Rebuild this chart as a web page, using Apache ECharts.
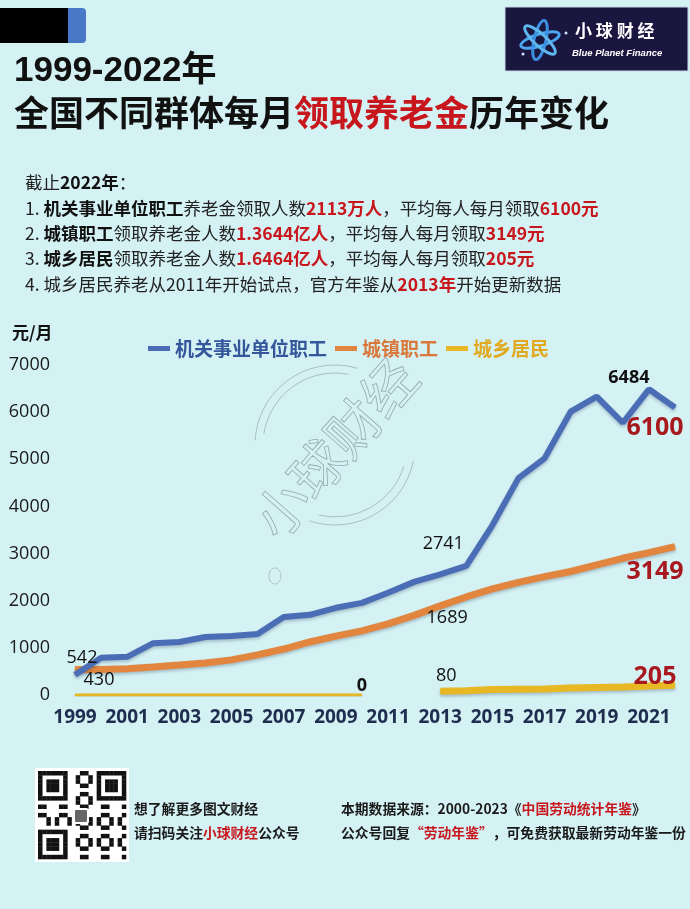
<!DOCTYPE html>
<html>
<head>
<meta charset="utf-8">
<script src="https://cdn.jsdelivr.net/npm/echarts@6/dist/echarts.min.js"></script>
<style>
html,body{margin:0;padding:0;background:#d4f1f3;}
#main{width:690px;height:909px;}
</style>
</head>
<body>
<div id="main"></div>
<script>
// ---- data ----
const years = ['1999','2000','2001','2002','2003','2004','2005','2006','2007','2008','2009','2010','2011','2012','2013','2014','2015','2016','2017','2018','2019','2020','2021','2022'];
const govStaff = [430, 790, 810, 1100, 1125, 1230, 1250, 1295, 1655, 1700, 1850, 1955, 2170, 2400, 2560, 2741, 3600, 4600, 5020, 6010, 6330, 5775, 6484, 6100];
const urbanStaff = [542, 540, 556, 595, 635, 680, 745, 850, 975, 1125, 1250, 1360, 1510, 1689, 1890, 2080, 2250, 2390, 2510, 2620, 2760, 2900, 3020, 3149];
const ruralEarly = [0, 0, 0, 0, 0, 0, 0, 0, 0, 0, 0, 0, null, null, null, null, null, null, null, null, null, null, null, null];
const ruralLate = [null, null, null, null, null, null, null, null, null, null, null, null, null, null, 80, 90, 115, 120, 125, 150, 160, 170, 190, 205];
const seriesNames = ['机关事业单位职工', '城镇职工', '城乡居民'];
const yMin = 0, yMax = 7000, yStep = 1000;

// ---- styles ----
const C_BLUE = '#4a6db6', C_ORANGE = '#e2853e', C_YELLOW = '#e8b824';
const RED = '#c8161d', DARKRED = '#a8181f';
const CJK = '"Noto Sans CJK SC", sans-serif';
const NUM = '"Open Sans", "Noto Sans", sans-serif';

const plainLbl = {fontFamily: NUM, fontSize: 18, color: '#111'};
const bigRed = {fontFamily: NUM, fontSize: 25, fontWeight: 'bold', color: DARKRED};
const govLabels = {
  0: Object.assign({offset: [24, 5]}, plainLbl),
  15: Object.assign({offset: [-23, -22]}, plainLbl),
  22: Object.assign({offset: [-20, -11]}, plainLbl, {fontWeight: 'bold'}),
  23: Object.assign({offset: [-20, 20]}, bigRed)
};
const urbanLabels = {
  0: Object.assign({offset: [7, -12]}, plainLbl),
  13: Object.assign({offset: [33, 2]}, plainLbl),
  23: Object.assign({offset: [-20, 25]}, bigRed)
};
const ruralEarlyLabels = {
  11: Object.assign({offset: [0, -9]}, plainLbl, {fontWeight: 'bold'})
};
const ruralLateLabels = {
  14: Object.assign({offset: [6, -15]}, plainLbl),
  23: Object.assign({offset: [-20, -8]}, bigRed)
};
function build(arr, cfg) {
  return arr.map(function (v, i) {
    if (cfg[i] && v !== null) {
      return {value: v, label: Object.assign({show: true, position: 'inside'}, cfg[i])};
    }
    return v;
  });
}
function lineSeries(name, arr, cfg, color, width) {
  return {
    name: name, type: 'line', data: build(arr, cfg),
    symbol: 'circle', symbolSize: 1, showSymbol: true, showAllSymbol: true,
    itemStyle: {color: color},
    lineStyle: {color: color, width: width, shadowColor: 'rgba(20,40,80,0.25)', shadowBlur: 3, shadowOffsetY: 2},
    label: {show: false},
    emphasis: {disabled: true},
    connectNulls: false
  };
}

// decorative QR code modules
const qrModules = [];
(function () {
  const N = 21, s = 88 / N, x0 = 38, y0 = 771;
  function finder(r, c) { return (r >= 0 && r < 7 && c >= 0 && c < 7); }
  for (let r = 0; r < N; r++) {
    for (let c = 0; c < N; c++) {
      let on = false;
      const f1 = finder(r, c), f2 = finder(r, c - 14), f3 = finder(r - 14, c);
      if (f1 || f2 || f3) {
        const rr = f3 ? r - 14 : r;
        const cc = f2 ? c - 14 : c;
        on = (rr === 0 || rr === 6 || cc === 0 || cc === 6) || (rr >= 2 && rr <= 4 && cc >= 2 && cc <= 4);
      } else if ((r === 7 && (c < 8 || c > 12)) || (c === 7 && (r < 8 || r > 12)) || (c === 13 && r < 8) || (r === 13 && c < 8)) {
        on = false;
      } else {
        on = ((r * 7 + c * 11 + r * c) % 5) < 2;
      }
      if (on) qrModules.push({type: 'rect', z: 11, shape: {x: x0 + c * s, y: y0 + r * s, width: s + 0.3, height: s + 0.3}, style: {fill: '#111'}});
    }
  }
})();

function noteRich() {
  const base = {fontSize: 17.5, fontFamily: CJK, lineHeight: 22};
  return {
    n: Object.assign({color: '#222', fontWeight: 'normal'}, base),
    b: Object.assign({color: '#111', fontWeight: 'bold'}, base),
    r: Object.assign({color: RED, fontWeight: 'bold'}, base)
  };
}
function footStyle() {
  return {fontSize: 13.8, fontWeight: 'bold', color: '#1a1a1a', fontFamily: CJK, lineHeight: 17,
    rich: {r: {fontSize: 13.8, fontWeight: 'bold', color: RED, fontFamily: CJK, lineHeight: 17}}};
}

const chart = echarts.init(document.getElementById('main'), null, {renderer: 'canvas'});
const option = {
  animation: false,
  backgroundColor: '#d4f1f3',
  textStyle: {fontFamily: CJK},
  title: [
    {text: '1999-2022年', left: 14, top: 52, padding: 0,
      textStyle: {fontSize: 35, fontWeight: 'bold', color: '#111', fontFamily: '"Liberation Sans", ' + CJK, lineHeight: 38}},
    {text: '全国不同群体每月{r|领取养老金}历年变化', left: 14, top: 94, padding: 0,
      textStyle: {fontSize: 35, fontWeight: 'bold', color: '#111', fontFamily: CJK, lineHeight: 38,
        rich: {r: {fontSize: 35, fontWeight: 'bold', color: RED, fontFamily: CJK, lineHeight: 38}}}},
    {text: '{n|截止}{b|2022年}{n|：}', left: 25, top: 171, padding: 0, textStyle: {rich: noteRich()}},
    {text: '{n|1. }{b|机关事业单位职工}{n|养老金领取人数}{r|2113万人}{n|，平均每人每月领取}{r|6100元}', left: 25, top: 197, padding: 0, textStyle: {rich: noteRich()}},
    {text: '{n|2. }{b|城镇职工}{n|领取养老金人数}{r|1.3644亿人}{n|，平均每人每月领取}{r|3149元}', left: 25, top: 222, padding: 0, textStyle: {rich: noteRich()}},
    {text: '{n|3. }{b|城乡居民}{n|领取养老金人数}{r|1.6464亿人}{n|，平均每人每月领取}{r|205元}', left: 25, top: 247, padding: 0, textStyle: {rich: noteRich()}},
    {text: '{n|4. 城乡居民养老从2011年开始试点，官方年鉴从}{r|2013年}{n|开始更新数据}', left: 25, top: 273, padding: 0, textStyle: {rich: noteRich()}},
    {text: '元/月', left: 12, top: 322, padding: 0,
      textStyle: {fontSize: 17, fontWeight: 'bold', color: '#111', fontFamily: CJK, lineHeight: 22}},
    {text: '想了解更多图文财经', left: 134, top: 800, padding: 0, textStyle: footStyle()},
    {text: '请扫码关注{r|小球财经}公众号', left: 134, top: 824, padding: 0, textStyle: footStyle()},
    {text: '本期数据来源：2000-2023《{r|中国劳动统计年鉴}》', left: 341, top: 800, padding: 0, textStyle: footStyle()},
    {text: '公众号回复{r|“劳动年鉴”}，可免费获取最新劳动年鉴一份', left: 341, top: 824, padding: 0, textStyle: footStyle()}
  ],
  legend: {
    left: 148, top: 339, padding: 0,
    icon: 'rect', itemWidth: 22, itemHeight: 5, itemGap: 8,
    textStyle: {fontSize: 19, fontWeight: 'bold', fontFamily: CJK},
    data: [
      {name: seriesNames[0], textStyle: {color: '#34579c'}},
      {name: seriesNames[1], textStyle: {color: '#d9783a'}},
      {name: seriesNames[2], textStyle: {color: '#e2a91e'}}
    ],
    selectedMode: false
  },
  grid: {left: 75, right: 15, top: 365, bottom: 214, containLabel: false},
  xAxis: {
    type: 'category', data: years, boundaryGap: false,
    axisLine: {show: false}, axisTick: {show: false},
    axisLabel: {interval: 1, margin: 13, fontSize: 19, fontWeight: 'bold', color: '#1f2d4f', fontFamily: NUM}
  },
  yAxis: {
    type: 'value', min: yMin, max: yMax, interval: yStep,
    splitLine: {show: false}, axisLine: {show: false}, axisTick: {show: false},
    axisLabel: {margin: 25, fontSize: 18, color: '#1a1a1a', fontFamily: NUM, formatter: function (v) { return String(v); }}
  },
  series: [
    lineSeries(seriesNames[2], ruralEarly, ruralEarlyLabels, C_YELLOW, 3),
    lineSeries(seriesNames[2], ruralLate, ruralLateLabels, C_YELLOW, 7),
    lineSeries(seriesNames[1], urbanStaff, urbanLabels, C_ORANGE, 7),
    lineSeries(seriesNames[0], govStaff, govLabels, C_BLUE, 6)
  ],
  graphic: [
    // top-left black tab
    {type: 'rect', z: 10, shape: {x: 60, y: 8, width: 26, height: 35, r: [0, 4, 4, 0]}, style: {fill: '#4a78c8'}},
    {type: 'rect', z: 11, shape: {x: 0, y: 8, width: 68, height: 35}, style: {fill: '#000'}},
    // logo box
    {type: 'rect', z: 10, shape: {x: 505, y: 7, width: 183, height: 64}, style: {fill: '#1b1640', stroke: '#c8d8e8', lineWidth: 1}},
    {type: 'ellipse', z: 11, shape: {cx: 540, cy: 40, rx: 20, ry: 6}, rotation: 0.3, originX: 540, originY: 40, style: {fill: 'none', stroke: '#4aa6ee', lineWidth: 3}},
    {type: 'ellipse', z: 11, shape: {cx: 540, cy: 40, rx: 20, ry: 6}, rotation: 1.35, originX: 540, originY: 40, style: {fill: 'none', stroke: '#3d8fe0', lineWidth: 3}},
    {type: 'ellipse', z: 11, shape: {cx: 540, cy: 40, rx: 20, ry: 6}, rotation: 2.4, originX: 540, originY: 40, style: {fill: 'none', stroke: '#5fb8f0', lineWidth: 3}},
    {type: 'circle', z: 11, shape: {cx: 566, cy: 33, r: 1.5}, style: {fill: '#cfe4ff'}},
    {type: 'circle', z: 11, shape: {cx: 523, cy: 54, r: 1.5}, style: {fill: '#cfe4ff'}},
    {type: 'text', z: 11, x: 575, y: 22, style: {text: '小 球 财 经', fill: '#fff', font: 'bold 17px "Noto Sans CJK SC"'}},
    {type: 'text', z: 11, x: 572, y: 48, style: {text: 'Blue Planet Finance', fill: '#fff', font: 'italic bold 9.5px "Liberation Sans"'}},
    // watermark stamp
    {type: 'arc', z: 1, shape: {cx: 335, cy: 445, r: 80, startAngle: 3.2, endAngle: 5.0}, style: {fill: 'none', stroke: 'rgba(90,100,110,0.45)', lineWidth: 0.8}},
    {type: 'arc', z: 1, shape: {cx: 335, cy: 445, r: 72, startAngle: 3.3, endAngle: 4.9}, style: {fill: 'none', stroke: 'rgba(90,100,110,0.45)', lineWidth: 0.8}},
    {type: 'arc', z: 1, shape: {cx: 335, cy: 445, r: 80, startAngle: 0.2, endAngle: 1.9}, style: {fill: 'none', stroke: 'rgba(90,100,110,0.45)', lineWidth: 0.8}},
    {type: 'arc', z: 1, shape: {cx: 335, cy: 445, r: 72, startAngle: 0.3, endAngle: 1.8}, style: {fill: 'none', stroke: 'rgba(90,100,110,0.45)', lineWidth: 0.8}},
    {type: 'text', z: 1, x: 335, y: 448, rotation: 0.85,
      style: {text: '小球财经', fill: 'none', stroke: 'rgba(90,100,110,0.5)', lineWidth: 0.8, font: '54px "Noto Sans CJK SC"', textAlign: 'center', textVerticalAlign: 'middle'}},
    {type: 'ellipse', z: 1, shape: {cx: 275, cy: 576, rx: 6, ry: 8}, style: {fill: 'none', stroke: 'rgba(90,100,110,0.4)', lineWidth: 0.8}},
    // QR code
    {type: 'rect', z: 10, shape: {x: 35, y: 768, width: 94, height: 94}, style: {fill: '#fff'}}
  ].concat(qrModules).concat([
    {type: 'rect', z: 12, shape: {x: 74, y: 809, width: 14, height: 14, r: 2}, style: {fill: '#666', stroke: '#fff', lineWidth: 2}}
  ])
};
chart.setOption(option);
</script>
</body>
</html>
